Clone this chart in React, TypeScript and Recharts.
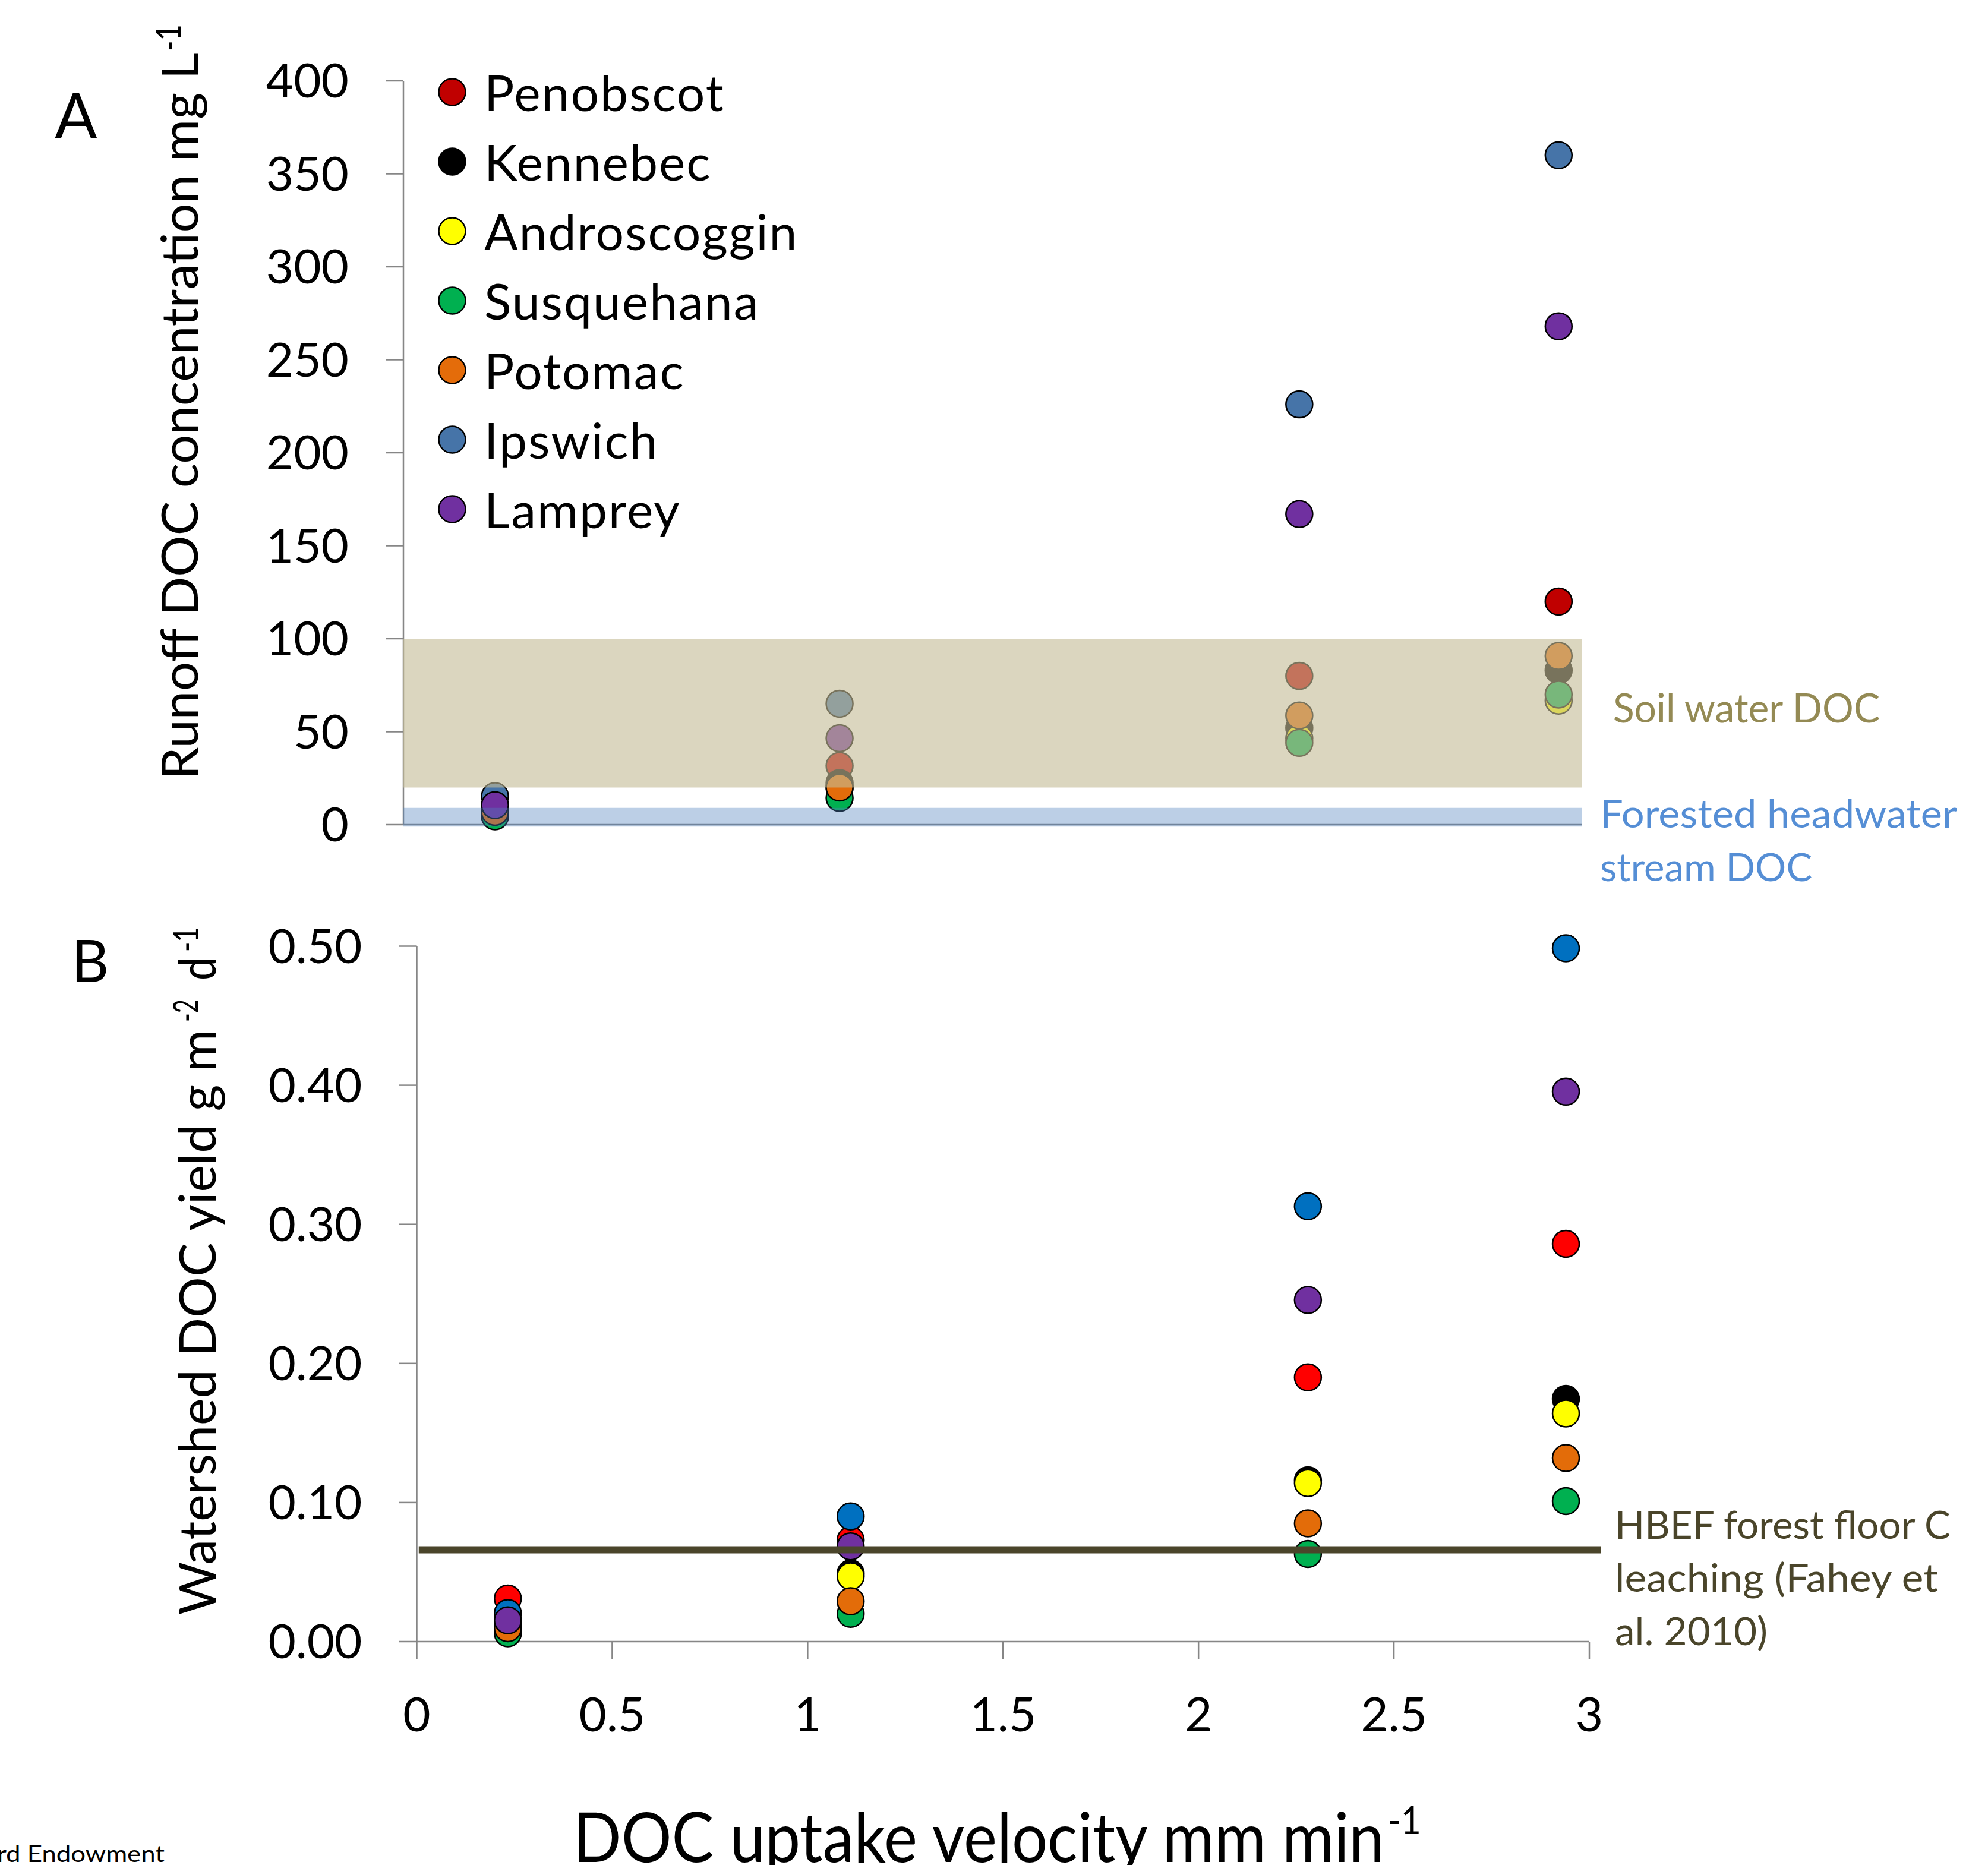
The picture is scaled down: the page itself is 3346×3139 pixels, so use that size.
import React from 'react';
import {
  ScatterChart, Scatter, XAxis, YAxis, ReferenceArea, ReferenceLine, Legend, Label,
} from 'recharts';

// ---------- data ----------
const velocity = [0.233, 1.11, 2.28, 2.94]; // DOC uptake velocity mm min-1
const rivers = ['Penobscot', 'Kennebec', 'Androscoggin', 'Susquehana', 'Potomac', 'Ipswich', 'Lamprey'];
const concColors = ['#C00000', '#000000', '#FFFF00', '#00B050', '#E46C0A', '#4674A8', '#7030A0'];
const yieldColors = ['#FF0000', '#000000', '#FFFF00', '#00B050', '#E36C09', '#0070C0', '#7030A0'];

// Panel A: runoff DOC concentration (mg L-1)
const penobscotConc = [9, 31.6, 80, 120];
const kennebecConc = [8, 22.4, 52, 83];
const androscogginConc = [6, 20, 46.5, 66.7];
const susquehanaConc = [4.5, 14.4, 44, 70];
const potomacConc = [6.9, 20, 58.7, 90.7];
const ipswichConc = [15.3, 65, 226, 360];
const lampreyConc = [10.5, 46.5, 167, 268];

// Panel B: watershed DOC yield (g m-2 d-1)
const penobscotYield = [0.031, 0.073, 0.19, 0.286];
const kennebecYield = [0.012, 0.049, 0.116, 0.1745];
const androscogginYield = [0.01, 0.047, 0.114, 0.164];
const susquehanaYield = [0.006, 0.02, 0.063, 0.101];
const potomacYield = [0.0096, 0.029, 0.085, 0.132];
const ipswichYield = [0.0205, 0.09, 0.313, 0.4985];
const lampreyYield = [0.0153, 0.0685, 0.2456, 0.3954];

const concTicks = [0, 50, 100, 150, 200, 250, 300, 350, 400];
const yieldTicks = [0, 0.1, 0.2, 0.3, 0.4, 0.5];
const velocityTicks = [0, 0.5, 1, 1.5, 2, 2.5, 3];

const soilWaterDOC = [20, 100];
const headwaterDOC = [-1, 9];
const hbefLeaching = 0.066;

const concSeries = [penobscotConc, kennebecConc, androscogginConc, susquehanaConc, potomacConc, ipswichConc, lampreyConc];
const yieldSeries = [penobscotYield, kennebecYield, androscogginYield, susquehanaYield, potomacYield, ipswichYield, lampreyYield];

const toPoints = (vals: number[]) => vals.map((v, i) => ({ x: velocity[i], y: v }));

// ---------- styles ----------
const FONT = 'Lato';
const AXIS = '#868686';
const W = 3346;
const H_A = 1540;
const H_B = 3139 - H_A;

const makeDot = (color: string) => (p: any) => (
  <circle cx={p.cx} cy={p.cy} r={22.5} fill={color} stroke="#000" strokeWidth={2.5} />
);

const tickStyle = { fontFamily: FONT, fontSize: 80, fill: '#000' };

const renderLegend = () => (
  <div style={{ display: 'flex', flexDirection: 'column' }}>
    {rivers.map((r, i) => (
      <div key={r} style={{ height: 117, display: 'flex', alignItems: 'center' }}>
        <svg width={48} height={48} style={{ display: 'block' }}>
          <circle cx={24} cy={24} r={22.5} fill={concColors[i]} stroke="#000" strokeWidth={2.5} />
        </svg>
        <span style={{ marginLeft: 30, fontFamily: FONT, fontSize: 84, letterSpacing: 2, lineHeight: '117px', color: '#000', whiteSpace: 'nowrap' }}>{r}</span>
      </div>
    ))}
  </div>
);

const titleA = () => (
  <g>
    <text transform="rotate(-90 333 1312)" x={333} y={1312} fontFamily={FONT} fontSize={86} fill="#000"
      textLength={1223} lengthAdjust="spacingAndGlyphs">Runoff DOC concentration mg L</text>
    <text transform="rotate(-90 304 86)" x={304} y={86} fontFamily={FONT} fontSize={58} fill="#000"
      textLength={45} lengthAdjust="spacingAndGlyphs">-1</text>
  </g>
);

const titleB = () => {
  const o = H_A;
  return (
    <g>
      <text transform={`rotate(-90 363 ${2718 - o})`} x={363} y={2718 - o} fontFamily={FONT} fontSize={86} fill="#000"
        textLength={985} lengthAdjust="spacingAndGlyphs">Watershed DOC yield g m</text>
      <text transform={`rotate(-90 334 ${1720 - o})`} x={334} y={1720 - o} fontFamily={FONT} fontSize={60} fill="#000"
        textLength={38} lengthAdjust="spacingAndGlyphs">-2</text>
      <text transform={`rotate(-90 363 ${1650 - o})`} x={363} y={1650 - o} fontFamily={FONT} fontSize={86} fill="#000"
        textLength={39} lengthAdjust="spacingAndGlyphs">d</text>
      <text transform={`rotate(-90 334 ${1602 - o})`} x={334} y={1602 - o} fontFamily={FONT} fontSize={60} fill="#000"
        textLength={42} lengthAdjust="spacingAndGlyphs">-1</text>
    </g>
  );
};

const titleX = () => {
  const o = H_A;
  return (
    <g>
      <text x={965} y={3134 - o} fontFamily={FONT} fontSize={116} fill="#000"
        textLength={1365} lengthAdjust="spacingAndGlyphs">DOC uptake velocity mm min</text>
      <text x={2336} y={3087 - o} fontFamily={FONT} fontSize={66} fill="#000"
        textLength={56} lengthAdjust="spacingAndGlyphs">-1</text>
    </g>
  );
};

const soilLabel = () => (
  <text x={2715} y={1216} fontFamily={FONT} fontSize={67} fill="#948A54" textLength={449} lengthAdjust="spacingAndGlyphs">Soil water DOC</text>
);

const headwaterLabel = () => (
  <g fontFamily={FONT} fontSize={66} fill="#558ED5">
    <text x={2693} y={1393} textLength={601} lengthAdjust="spacingAndGlyphs">Forested headwater</text>
    <text x={2693} y={1483} textLength={357} lengthAdjust="spacingAndGlyphs">stream DOC</text>
  </g>
);

const hbefLabel = () => {
  const o = H_A;
  return (
    <g fontFamily={FONT} fontSize={65} fill="#4A452A">
      <text x={2718} y={2590 - o} textLength={565} lengthAdjust="spacingAndGlyphs">HBEF forest floor C</text>
      <text x={2718} y={2679 - o} textLength={544} lengthAdjust="spacingAndGlyphs">leaching (Fahey et</text>
      <text x={2718} y={2769 - o} textLength={257} lengthAdjust="spacingAndGlyphs">al. 2010)</text>
    </g>
  );
};

export default function App() {
  return (
    <div style={{ position: 'absolute', left: 0, top: 0, width: W, height: 3139, background: '#fff', overflow: 'hidden' }}>
      {/* Panel A */}
      <div style={{ position: 'absolute', left: 0, top: 0 }}>
        <ScatterChart width={W} height={H_A} margin={{ top: 136, right: 683, bottom: 0, left: 0 }}>
          <XAxis type="number" dataKey="x" domain={[0, 3]} tick={false} tickLine={false} height={H_A - 1388}
            axisLine={{ stroke: AXIS, strokeWidth: 2.5 }} allowDataOverflow />
          <YAxis type="number" dataKey="y" domain={[0, 400]} ticks={concTicks} interval={0} width={679}
            tickSize={30} tickMargin={62} tick={tickStyle}
            axisLine={{ stroke: AXIS, strokeWidth: 2.5 }} tickLine={{ stroke: AXIS, strokeWidth: 2.5 }}>
            <Label content={titleA} />
          </YAxis>
          {concSeries.map((vals, i) => (
            <Scatter key={rivers[i]} name={rivers[i]} data={toPoints(vals)} fill={concColors[i]}
              shape={makeDot(concColors[i])} isAnimationActive={false} />
          ))}
          <ReferenceArea x1={0} x2={3} y1={soilWaterDOC[0]} y2={soilWaterDOC[1]} fill="#C4BC96" fillOpacity={0.61}
            stroke="none" ifOverflow="visible" zIndex={700} label={soilLabel} />
          <ReferenceArea x1={0} x2={3} y1={headwaterDOC[0]} y2={headwaterDOC[1]} fill="#4F81BD" fillOpacity={0.38}
            stroke="none" ifOverflow="visible" zIndex={700} label={headwaterLabel} />
          <Legend layout="vertical" align="center" verticalAlign="middle" content={renderLegend}
            wrapperStyle={{ left: 737, top: 96, width: 1000, height: 820 }} />
        </ScatterChart>
      </div>

      {/* Panel B */}
      <div style={{ position: 'absolute', left: 0, top: H_A }}>
        <ScatterChart width={W} height={H_B} margin={{ top: 1592.5 - H_A, right: 671, bottom: 0, left: 0 }}>
          <XAxis type="number" dataKey="x" domain={[0, 3]} ticks={velocityTicks} interval={0} height={3139 - 2763}
            tickSize={30} tickMargin={64} tick={tickStyle}
            axisLine={{ stroke: AXIS, strokeWidth: 2.5 }} tickLine={{ stroke: AXIS, strokeWidth: 2.5 }}>
            <Label content={titleX} />
          </XAxis>
          <YAxis type="number" dataKey="y" domain={[0, 0.5]} ticks={yieldTicks} interval={0} width={701.5}
            tickSize={30} tickMargin={62} tick={tickStyle} tickFormatter={(v: number) => v.toFixed(2)}
            axisLine={{ stroke: AXIS, strokeWidth: 2.5 }} tickLine={{ stroke: AXIS, strokeWidth: 2.5 }}>
            <Label content={titleB} />
          </YAxis>
          {yieldSeries.map((vals, i) => (
            <Scatter key={rivers[i]} name={rivers[i]} data={toPoints(vals)} fill={yieldColors[i]}
              shape={makeDot(yieldColors[i])} isAnimationActive={false} />
          ))}
          <ReferenceLine segment={[{ x: 0.005, y: hbefLeaching }, { x: 3.03, y: hbefLeaching }]}
            stroke="#4A452A" strokeWidth={12} ifOverflow="visible" zIndex={700} label={hbefLabel} />
        </ScatterChart>
      </div>

      {/* Panel letters and source note */}
      <svg width={W} height={3139} style={{ position: 'absolute', left: 0, top: 0, pointerEvents: 'none' }}>
        <text x={92} y={233} fontFamily={FONT} fontSize={106} fill="#000">A</text>
        <text x={120} y={1653} fontFamily={FONT} fontSize={98} fill="#000">B</text>
        <text x={277} y={3134} textAnchor="end" fontFamily={FONT} fontSize={38} fill="#000"
          textLength={282} lengthAdjust="spacingAndGlyphs">rd Endowment</text>
      </svg>
    </div>
  );
}
